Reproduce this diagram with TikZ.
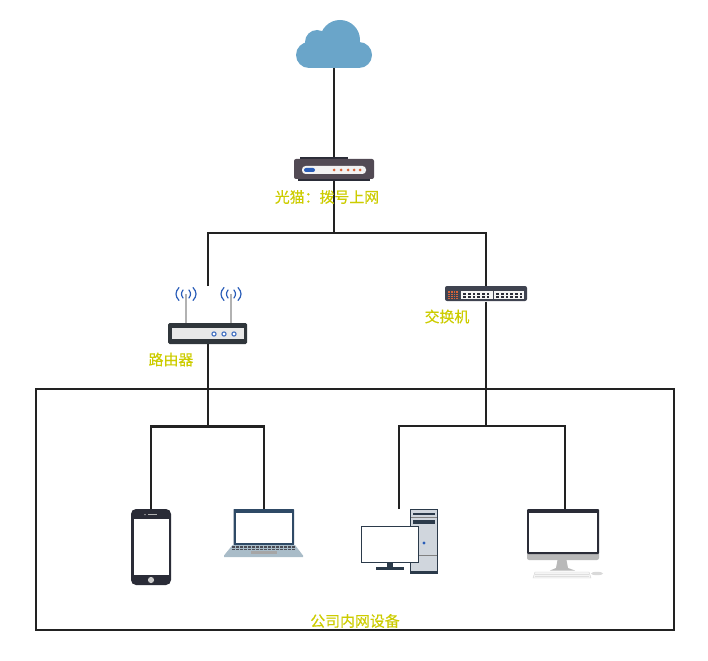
\documentclass[tikz,border=0pt]{standalone}
\usepackage{fontspec}
\newfontfamily\cjk[FakeBold=0.35]{Noto Sans CJK SC}
\definecolor{lbl}{HTML}{CCCC00}
\definecolor{wire}{HTML}{222222}
\definecolor{cloudc}{HTML}{6AA5C9}
\definecolor{modemc}{HTML}{524A54}
\definecolor{darkc}{HTML}{2A2C37}
\definecolor{routerc}{HTML}{30363B}
\definecolor{bluec}{HTML}{2A5DB8}
\definecolor{orangec}{HTML}{D9643A}
\definecolor{switchc}{HTML}{3F4350}
\definecolor{slatec}{HTML}{2F4A66}
\definecolor{towerc}{HTML}{D0D6DD}
\definecolor{towerd}{HTML}{2B3A4A}
\definecolor{lapbase}{HTML}{A9BCC8}
\tikzset{
  wired/.style={draw=wire,line width=2.1pt},
  icon/.style={inner sep=0pt,outer sep=0pt,minimum width=#1},
  txt/.style={text=lbl,font=\cjk\fontsize{14.9}{16}\selectfont,inner sep=0pt},
  wave/.style={draw=bluec,line width=1.2pt,line cap=round},
}
\begin{document}
\begin{tikzpicture}[x=1pt,y=-1pt]
\useasboundingbox (0,0) rectangle (708,660);
% anchor nodes (invisible footprints of the icons)
\node[icon=76pt,minimum height=48pt] (cloud) at (334,44) {};
\node[icon=80pt,minimum height=24pt] (modem) at (334,169) {};
\node[icon=79pt,minimum height=58pt] (router) at (208,315) {};
\node[icon=82pt,minimum height=15pt] (switch) at (486,294) {};
\node[icon=40pt,minimum height=76pt] (phone) at (151,547) {};
\node[icon=79pt,minimum height=48pt] (laptop) at (264,533) {};
\node[icon=77pt,minimum height=64pt] (pc) at (399,541) {};
\node[icon=76pt,minimum height=69pt] (imac) at (565,544) {};
\coordinate (topj) at (334,233);
\coordinate (leftj) at (208,233);
\coordinate (rightj) at (486,233);
\coordinate (rj) at (208,426.5);
\coordinate (sj) at (486,426);
\coordinate (phonej) at (151,426.5);
\coordinate (laptopj) at (264,426.5);
\coordinate (pcj) at (399,426);
\coordinate (imacj) at (565,426);
% connectors
\draw[wired] (cloud.south) -- (modem.north);
\draw[wired] (modem.south) -- (topj);
\draw[wired] (router.north) -- (leftj) -- (rightj) -- (switch.north);
\draw[wired] (switch.south) -- (sj);
\draw[wired] (router.south) -- (rj);
\draw[wired] (phone.north) -- (phonej) -- (laptopj) -- (laptop.north);
\draw[wired] (pc.north) -- (pcj) -- (imacj) -- (imac.north);
% box
\node[draw=wire,line width=1.6pt,minimum width=638pt,minimum height=241pt,inner sep=0pt] (lan) at (355,509.5) {};
% cloud
\fill[cloudc] (340,40) circle (20);
\fill[cloudc] (317,42) circle (12);
\fill[cloudc] (309,55) circle (13);
\fill[cloudc] (359,55) circle (13);
\fill[cloudc] (309,46) rectangle (359,68);
% modem
\fill[darkc] (300,157) rectangle (348,160);
\fill[darkc] (298,178) rectangle (370,181);
\fill[modemc,rounded corners=2pt] (294,159) rectangle (374,179);
\fill[gray!10,rounded corners=3.5pt] (302,166) rectangle (366,174);
\fill[bluec,rounded corners=2pt] (304,168) rectangle (315,172);
\foreach \x in {334,341,348,354,360} \fill[orangec] (\x,170) circle (1.5);
% router
\foreach \x in {186,231} {
  \fill[gray!60] (\x-1,294) rectangle (\x+1,323);
  \draw[wave] (\x-3,290) .. controls (\x-5,293) and (\x-5,295) .. (\x-3,298);
  \draw[wave] (\x+3,290) .. controls (\x+5,293) and (\x+5,295) .. (\x+3,298);
  \draw[wave] (\x-7,287.5) .. controls (\x-11,292) and (\x-11,296) .. (\x-7,300.5);
  \draw[wave] (\x+7,287.5) .. controls (\x+11,292) and (\x+11,296) .. (\x+7,300.5);
}
\fill[routerc,rounded corners=1.5pt] (168,323) rectangle (247,344);
\fill[gray!18] (172,328) rectangle (244,339);
\foreach \x in {214,224,234} \draw[bluec!90,fill=white,line width=1.1pt] (\x,334) circle (2.1);
% switch
\fill[switchc,rounded corners=2pt] (445,286) rectangle (527,301);
\fill[orangec] (448,291) rectangle (458,299);
\foreach \x in {450.5,453,455.5} \draw[switchc,line width=.4pt] (\x,291) -- (\x,299);
\foreach \y in {293,295,297} \draw[switchc,line width=.4pt] (448,\y) -- (458,\y);
\fill[gray!8] (461,291) rectangle (493,299);
\fill[gray!8] (494,291) rectangle (524,299);
\foreach \x in {464.5,469.2,473.9,478.6,483.3,488,497.5,502.2,506.9,511.6,516.3,521} {
  \fill[darkc] (\x-1.4,292.5) rectangle (\x+1.4,297.7);
  \fill[gray!8] (\x-1.4,294.8) rectangle (\x+1.4,295.4);
}
% phone
\fill[darkc,rounded corners=5pt] (131,509) rectangle (171,585);
\fill[white] (133.5,519) rectangle (169,575);
\fill[gray!40] (151,580) circle (3.1);
\fill[gray!60] (148,514) rectangle (157,515.3);
\fill[gray!60] (145,514.6) circle (.8);
% laptop
\fill[slatec,rounded corners=.5pt] (233.5,509) rectangle (294,545);
\fill[white] (236,512.5) rectangle (292,543);
\fill[lapbase] (232.5,545) -- (295,545) -- (303,555.5) -- (303,557) -- (224,557) -- (224,555.5) -- cycle;
\fill[darkc!85] (232,546) rectangle (295,549.5);
\foreach \x in {235,239,...,291} \draw[lapbase,line width=.6pt] (\x,546) -- (\x,549.5);
\draw[lapbase,line width=.5pt] (232,547.8) -- (295,547.8);
\fill[gray!70] (251,551) rectangle (277,554);
% tower
\fill[towerd] (410,509) rectangle (438,574);
\fill[towerc] (411,510) rectangle (437,571);
\draw[gray,line width=.7pt] (411,517.5) -- (437,517.5) (411,555) -- (437,555);
\fill[towerd] (413,513) rectangle (435,515);
\fill[towerd] (413,519.5) rectangle (435,524);
\fill[bluec] (424,543) circle (1.7);
% monitor
\fill[towerd] (387,562) rectangle (393,568);
\fill[towerd] (376,567) rectangle (404,569.5);
\draw[towerd,fill=white,line width=1.1pt] (361.5,526.5) rectangle (418.5,562.5);
% imac
\fill[gray!55] (557.5,560) -- (566.5,560) -- (568,568) -- (575,570.5) -- (550,570.5) -- (556,568) -- cycle;
\fill[gray!55,rounded corners=2pt] (527,552) rectangle (599,560);
\fill[darkc,rounded corners=1pt] (527,509) rectangle (599,554);
\fill[white] (529,513) rectangle (596.5,552);
\fill[gray!8,draw=gray!35,line width=.4pt] (535,572) -- (589,572) -- (591,578) -- (533,578) -- cycle;
\foreach \y in {574,576} \draw[gray!25,line width=.5pt] (535,\y) -- (589,\y);
\fill[gray!30] (597,573.5) ellipse (6 and 1.7);
% labels
\node[txt] (lmodem) at (327,197) {光猫：拨号上网};
\node[txt] (lrouter) at (171,359.5) {路由器};
\node[txt] (lswitch) at (447,316.5) {交换机};
\node[txt] (llan) at (355,621) {公司内网设备};
\end{tikzpicture}
\end{document}
